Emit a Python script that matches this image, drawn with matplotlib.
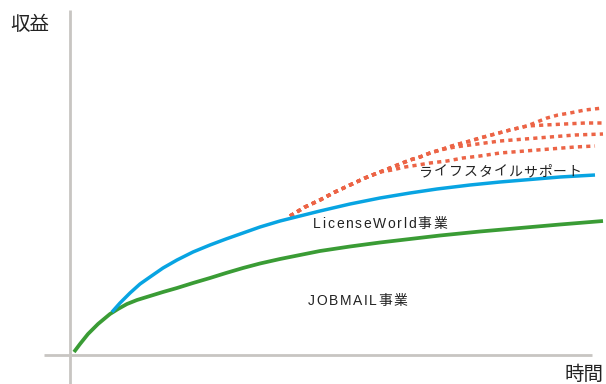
import matplotlib
matplotlib.use("Agg")
import matplotlib.pyplot as plt
from matplotlib.transforms import IdentityTransform

plt.rcParams['font.family'] = ['Noto Sans CJK JP', 'DejaVu Sans']

# --- data (time, revenue) ---
jobmail_t = [4, 7, 10, 14, 18, 23, 28, 34, 40, 48, 57, 67, 80, 93, 107, 123, 140, 156, 173,
             190, 210, 230, 250, 280, 310, 340, 370, 410, 450, 490, 533]
jobmail_r = [3, 7, 11, 16, 21, 26, 31, 36, 41, 46, 51, 55, 59, 63, 67, 72, 77, 82, 87,
             91.5, 96, 100, 104, 108.5, 112.5, 116, 119.5, 123.5, 127, 130.5, 134]

license_t = [42, 50, 60, 70, 80, 93, 107, 123, 140, 156, 173, 190, 210, 230, 250,
             280, 310, 340, 367, 400, 430, 460, 490, 525]
license_r = [43, 52, 62, 71, 78, 87, 95, 103, 110, 116, 122, 128, 134, 139, 144,
             151, 157, 162, 166, 170, 173, 175.5, 178, 180]

trunk_t = [220, 235, 250, 265, 280, 295, 310]
trunk_r = [139, 148, 155, 163, 170, 177, 183]
upper_t = [320, 330, 340, 350, 360, 370]
upper_r = [187, 191, 195, 198, 202, 205]
shared12_t = [385, 400, 410, 425, 440, 457]
shared12_r = [210, 214, 217, 221, 225, 229]

life1_t = trunk_t + upper_t + shared12_t + [467, 477, 488, 500, 515, 533]
life1_r = trunk_r + upper_r + shared12_r + [233, 237, 240, 242, 245, 247]
life2_t = trunk_t + upper_t + shared12_t + [475, 495, 515, 533]
life2_r = trunk_r + upper_r + shared12_r + [230, 231, 232, 232]
life3_t = trunk_t + upper_t + [385, 400, 415, 430, 455, 480, 505, 533]
life3_r = trunk_r + upper_r + [208, 210, 212, 214, 216, 218, 220, 221]
life4_t = trunk_t + [322, 335, 348, 360, 377, 393, 410, 430, 455, 480, 505, 525]
life4_r = trunk_r + [185, 188, 190, 192, 194, 197, 199, 202, 204, 206, 208, 209]

labels = ["ライフスタイルサポート", "LicenseWorld事業", "JOBMAIL事業"]
label_t = [349, 243, 238]
label_r = [179, 127, 50]
label_track = [1.0, 1.7, 1.6]
y_title = "収益"
x_title = "時間"

fig = plt.figure(figsize=(6.06, 3.84), dpi=100)
ax = fig.add_axes([0, 0, 1, 1])
ax.set_xlim(-70, 536)
ax.set_ylim(-29, 355)
ax.axis('off')

gray = '#c8c5c2'
ax.plot([0, 0], [-29, 345], color=gray, lw=2.0, solid_capstyle='butt')
ax.plot([-26, 522], [0, 0], color=gray, lw=2.0, solid_capstyle='butt')

red = '#ec6446'
for t, r in [(life1_t, life1_r), (life2_t, life2_r), (life3_t, life3_r), (life4_t, life4_r)]:
    ax.plot(t, r, color=red, lw=2.5, linestyle=(0, (1.2, 1.2)), dash_capstyle='butt')

ax.plot(jobmail_t, jobmail_r, color='#3a9c35', lw=2.7, solid_capstyle='butt')
ax.plot(license_t, license_r, color='#08a4e2', lw=2.5, solid_capstyle='butt')

tc = '#222222'
renderer = fig.canvas.get_renderer()
fam = ['Liberation Sans', 'Noto Sans CJK JP']


def text_width(s, size):
    tmp = fig.text(0, 0, s, fontsize=size, family=fam, transform=IdentityTransform())
    w = tmp.get_window_extent(renderer).width
    tmp.remove()
    return w


def tracked_text(s, t, r, track, size):
    x0, y = ax.transData.transform((t, r))
    for i, ch in enumerate(s):
        x = x0 + text_width(s[:i + 1], size) - text_width(ch, size) + i * track
        fig.text(x, y, ch, fontsize=size, ha='left', va='baseline', color=tc,
                 family=fam, transform=IdentityTransform())


for s, t, r, tr in zip(labels, label_t, label_r, label_track):
    tracked_text(s, t, r, tr, 10)

ax.text(-60, 331, y_title, fontsize=14, ha='left', va='center', color=tc)
ax.text(495, -19, x_title, fontsize=14, ha='left', va='center', color=tc)

fig.savefig("out.png", dpi=100)
